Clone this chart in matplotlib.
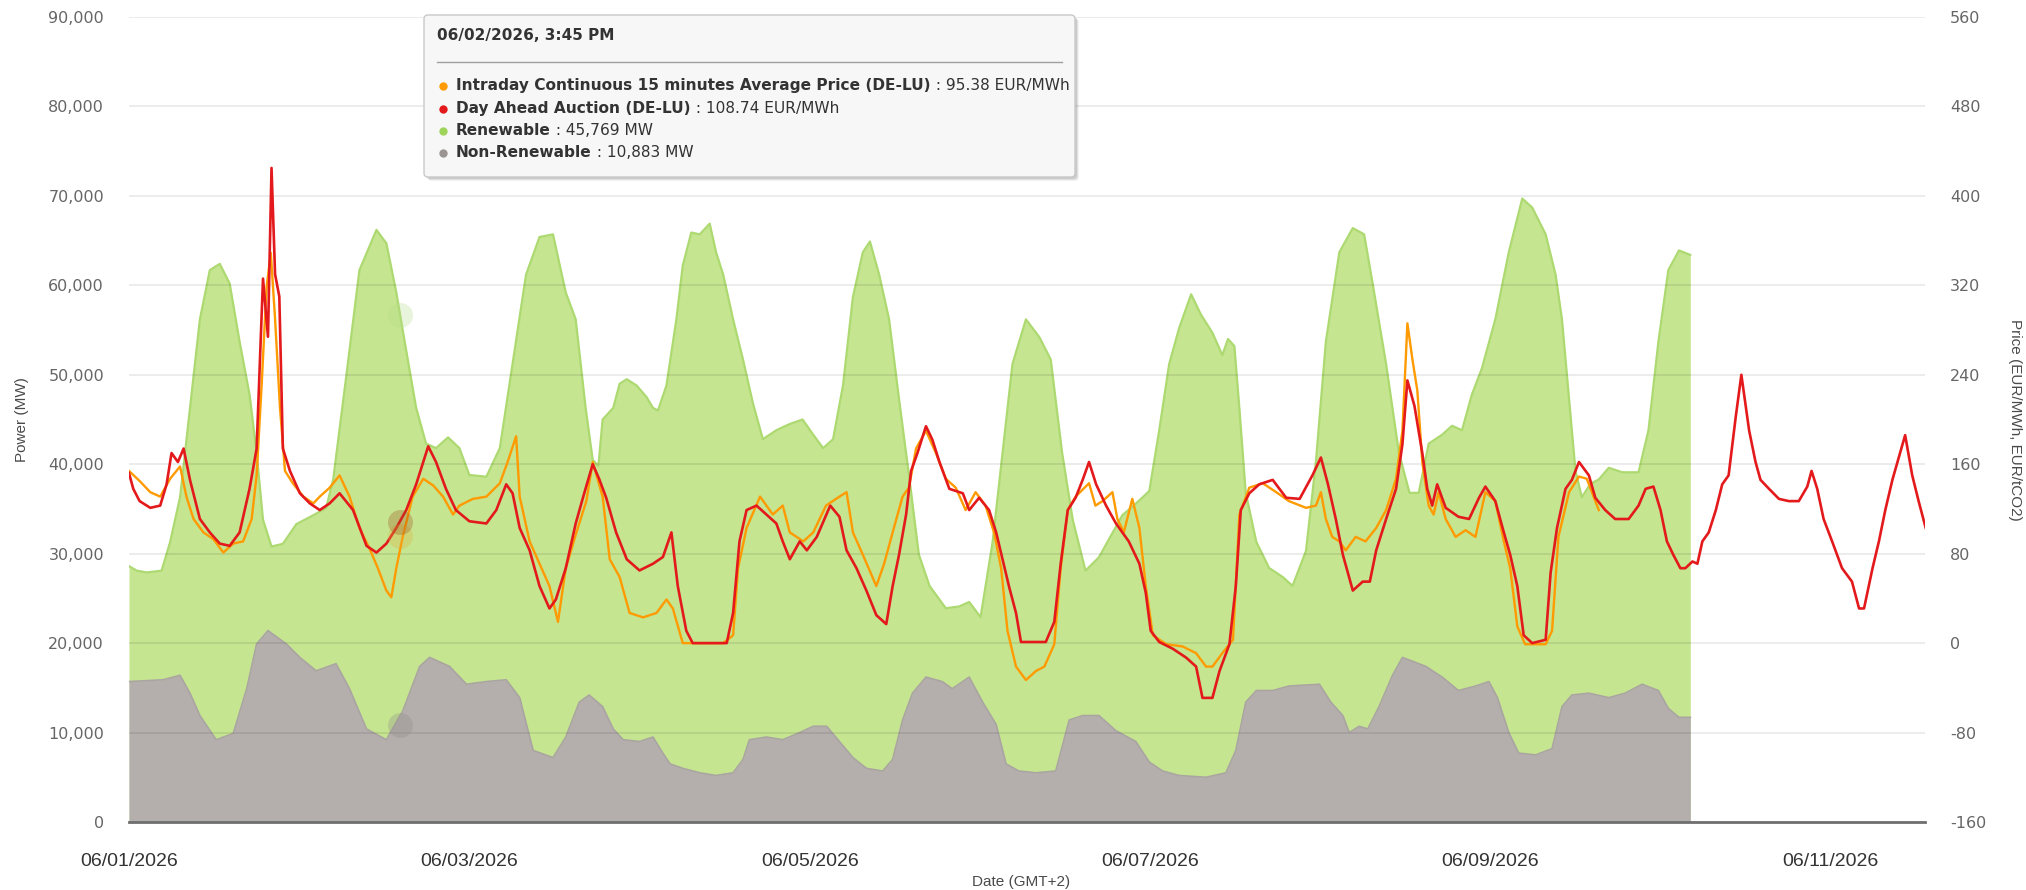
import matplotlib.pyplot as plt
import matplotlib.dates as mdates
import numpy as np
import pandas as pd
from matplotlib.patches import FancyBboxPatch
from matplotlib.ticker import FixedLocator, FuncFormatter

# All times are hours after 06/01/2026 00:00 (GMT+2).

# top of the stacked area (renewable + non-renewable), MW
total_hours = [0, 1.1, 2.5, 4.6, 5.8, 7.2, 8.6, 10.0, 11.4, 12.8, 14.2, 15.6, 17.0, 18.0,
               18.9, 20.1, 21.7, 23.6, 26.0, 27.8, 28.8, 30.7, 32.5, 34.9, 36.3, 37.7, 39.1,
               40.5, 41.9, 43.3, 45.0, 46.6, 48.0, 50.4, 52.3, 54.1, 56.0, 57.9, 59.8, 61.6,
               63.0, 64.4, 65.4, 66.2, 66.8, 68.3, 69.2, 70.2, 71.6, 73.0, 73.9, 74.6, 75.8,
               77.2, 78.1, 79.3, 80.5, 81.9, 82.8, 83.8, 85.2, 86.6, 88.0, 89.4, 91.3, 93.2,
               95.0, 96.5, 97.9, 99.3, 100.7, 102.1, 103.5, 104.5, 105.8, 107.2, 108.6, 110.0,
               111.4, 112.9, 115.2, 117.1, 118.5, 120.1, 121.8, 123.2, 124.6, 126.5, 128.4,
               130.0, 131.6, 133.1, 134.9, 136.8, 138.2, 140.1, 142.0, 143.9, 145.3, 146.7,
               148.1, 149.8, 151.2, 152.8, 154.2, 155.0, 155.9, 156.6, 157.5, 159.0, 160.8,
               162.7, 164.1, 166.0, 167.4, 168.8, 170.7, 172.6, 174.2, 175.4, 177.3, 179.1,
               180.6, 181.9, 183.3, 185.2, 186.6, 188.0, 189.4, 190.8, 192.7, 194.6, 196.5,
               197.9, 199.8, 201.2, 202.1, 203.1, 204.0, 204.9, 206.1, 207.3, 208.7, 210.6,
               212.9, 214.3, 215.7, 217.1, 218.6, 220.2]
total_mw = [28600, 28100, 27900, 28100, 31300, 36300, 46300, 56200, 61700, 62400, 60200, 53700,
            47800, 41300, 33800, 30800, 31100, 33300, 34300, 35100, 38300, 50200, 61700, 66200,
            64700, 59200, 52700, 46300, 42300, 41800, 43000, 41800, 38800, 38600, 41800, 51200,
            61200, 65400, 65700, 59200, 56200, 46300, 40500, 39800, 45000, 46300, 49000, 49500,
            48800, 47500, 46300, 46000, 48800, 56200, 62200, 65900, 65700, 66900, 63700, 61200,
            56200, 51700, 46800, 42800, 43800, 44500, 45000, 43300, 41800, 42800, 48800, 58700,
            63700, 64900, 61200, 56200, 47300, 38800, 29900, 26400, 23900, 24100, 24600, 22900,
            31300, 41300, 51200, 56200, 54200, 51700, 41300, 33800, 28100, 29600, 31600, 34300,
            35600, 37000, 43800, 51200, 55200, 59000, 56700, 54700, 52200, 54000, 53200, 46300,
            36800, 31300, 28400, 27400, 26400, 30300, 40300, 53700, 63700, 66400, 65700, 60200,
            51200, 41300, 36800, 36800, 42300, 43300, 44300, 43800, 47800, 50700, 56200, 63700,
            69700, 68700, 65700, 61200, 56200, 47300, 39300, 36300, 37800, 38300, 39600, 39100,
            39100, 43800, 53700, 61700, 63900, 63400]

nonren_hours = [0, 4.8, 7.2, 8.6, 10.0, 12.3, 14.7, 16.6, 18.0, 19.6, 22.2, 24.1, 26.4, 29.2,
                31.1, 33.5, 36.3, 38.6, 41.0, 42.4, 45.2, 47.6, 50.4, 53.2, 55.1, 57.0, 59.8,
                61.6, 63.5, 64.9, 66.8, 68.3, 69.7, 72.0, 73.9, 75.3, 76.3, 78.1, 80.5, 82.8,
                85.2, 86.6, 87.5, 89.9, 92.2, 94.6, 96.5, 98.4, 100.2, 102.1, 104.0, 106.3,
                107.7, 109.1, 110.5, 112.4, 114.7, 116.1, 118.5, 120.4, 122.3, 123.7, 125.5,
                127.9, 130.7, 132.6, 134.5, 136.8, 139.2, 142.0, 143.9, 145.8, 148.1, 151.9,
                154.7, 156.1, 157.5, 159.0, 161.3, 163.6, 167.9, 169.5, 171.2, 172.1, 173.5,
                174.7, 176.3, 178.2, 179.6, 182.9, 185.2, 187.5, 189.9, 191.8, 193.0, 194.6,
                196.0, 198.4, 200.7, 202.1, 203.5, 205.9, 208.7, 211.0, 213.4, 215.7, 217.1,
                218.6, 220.2]
nonren_mw = [15700, 15900, 16400, 14400, 11900, 9200, 9900, 14900, 19900, 21400, 19900, 18400,
             16900, 17700, 14900, 10400, 9200, 12400, 17400, 18400, 17400, 15400, 15700, 15900,
             13900, 8000, 7200, 9500, 13400, 14200, 12900, 10400, 9200, 9000, 9500, 7700, 6500,
             6000, 5500, 5200, 5500, 7000, 9200, 9500, 9200, 10000, 10700, 10700, 9000, 7200,
             6000, 5700, 7000, 11400, 14400, 16200, 15700, 14900, 16200, 13400, 10900, 6500,
             5700, 5500, 5700, 11400, 11900, 11900, 10200, 9000, 6700, 5700, 5200, 5000, 5500,
             8000, 13400, 14700, 14700, 15200, 15400, 13400, 11900, 10000, 10700, 10400, 12900,
             16400, 18400, 17400, 16200, 14700, 15200, 15700, 13900, 10000, 7700, 7500, 8200,
             12900, 14200, 14400, 13900, 14400, 15400, 14700, 12700, 11700, 11700]

# Day Ahead Auction (DE-LU), EUR/MWh
da_hours = [0, 0.6, 1.5, 3.0, 4.4, 5.3, 6.0, 6.9, 7.7, 8.6, 10.0, 11.4, 12.8, 14.2, 15.6, 17.0,
            18.0, 18.9, 19.6, 20.1, 20.6, 21.2, 21.7, 22.7, 24.1, 25.5, 26.9, 28.3, 29.7, 31.6,
            33.5, 34.9, 36.3, 37.7, 39.1, 40.5, 42.2, 43.3, 44.7, 46.1, 48.0, 50.4, 51.8, 53.2,
            54.1, 55.1, 56.5, 57.9, 59.3, 60.2, 61.6, 63.0, 64.2, 65.4, 66.3, 67.3, 68.7, 70.2,
            72.0, 73.9, 75.3, 76.5, 77.4, 78.6, 79.5, 84.3, 85.2, 86.1, 87.1, 88.5, 89.9, 91.3,
            92.2, 93.2, 94.6, 95.6, 97.0, 98.9, 100.2, 101.2, 102.6, 104.0, 105.4, 106.8, 107.7,
            108.6, 109.6, 110.3, 111.2, 112.4, 113.3, 114.3, 115.7, 117.6, 118.5, 119.9, 121.3,
            122.3, 123.2, 124.1, 125.1, 125.8, 129.3, 130.5, 131.4, 132.4, 133.5, 134.5, 135.4,
            136.4, 137.8, 139.2, 141.0, 142.5, 143.4, 144.1, 145.3, 147.2, 149.1, 150.5, 151.4,
            152.8, 153.8, 155.2, 156.1, 156.8, 158.0, 159.4, 161.3, 163.2, 165.1, 166.9, 168.1,
            169.1, 170.2, 171.2, 172.6, 174.0, 175.0, 175.9, 177.3, 178.7, 179.6, 180.3, 181.3,
            182.4, 183.1, 183.8, 184.5, 185.7, 187.5, 189.0, 190.4, 191.3, 192.7, 193.9, 194.8,
            195.8, 196.7, 197.9, 199.8, 200.5, 201.4, 202.6, 203.5, 204.5, 205.9, 206.8, 208.2,
            209.6, 211.5, 212.9, 213.9, 215.0, 216.0, 216.9, 217.8, 218.8, 219.5, 220.5, 221.2,
            221.9, 222.8, 223.8, 224.7, 225.6, 226.6, 227.4, 228.5, 229.4, 230.1, 231.3, 232.7,
            234.1, 235.5, 236.7, 237.3, 238.1, 239.0, 240.2, 241.6, 243.0, 244.0, 244.7, 245.9,
            246.8, 247.7, 248.7, 249.6, 250.5, 251.5, 252.4, 253.4]
da_price = [152, 138, 127, 121, 123, 142, 170, 162, 174, 146, 111, 99, 89, 87, 99, 138, 174, 326,
            274, 425, 330, 310, 174, 154, 134, 125, 119, 125, 134, 119, 87, 81, 89, 103, 119, 142,
            176, 162, 138, 119, 109, 107, 119, 142, 134, 103, 83, 51, 31, 39, 67, 107, 134, 160,
            147, 130, 99, 75, 65, 71, 77, 99, 51, 11, 0, 0, 27, 91, 119, 123, 115, 107, 91, 75,
            91, 83, 95, 123, 113, 83, 67, 47, 25, 17, 51, 79, 115, 154, 170, 194, 182, 162, 138,
            134, 119, 130, 119, 99, 75, 51, 27, 1, 1, 19, 71, 119, 130, 146, 162, 142, 123, 107,
            91, 71, 45, 11, 1, -5, -13, -21, -49, -49, -25, -1, 51, 119, 134, 142, 146, 130, 129,
            150, 166, 142, 111, 79, 47, 55, 55, 83, 111, 138, 178, 235, 212, 170, 138, 123, 142,
            121, 113, 111, 130, 140, 127, 99, 79, 51, 7, 0, 3, 63, 103, 138, 146, 162, 150, 130,
            119, 111, 111, 123, 138, 140, 119, 91, 79, 67, 67, 73, 71, 91, 99, 119, 142, 150, 202,
            240, 190, 162, 146, 138, 129, 127, 127, 140, 154, 138, 111, 91, 67, 55, 31, 31, 67,
            91, 119, 146, 166, 186, 150, 127, 103]

# Intraday Continuous 15 minutes Average Price (DE-LU), EUR/MWh
id_hours = [0, 1.5, 3.0, 4.4, 5.8, 7.2, 8.1, 9.1, 10.5, 11.9, 13.3, 14.7, 16.1, 17.3, 18.0, 18.7,
            19.4, 20.0, 20.6, 21.3, 22.0, 23.1, 24.6, 26.0, 26.9, 28.3, 29.7, 31.1, 32.5, 33.9,
            35.1, 36.3, 37.0, 37.7, 38.6, 40.0, 41.5, 42.9, 44.3, 45.7, 46.6, 48.5, 50.4, 52.3,
            53.4, 54.6, 55.1, 56.5, 57.9, 59.3, 60.5, 61.6, 63.1, 64.5, 65.4, 66.8, 67.8, 69.2,
            70.6, 72.5, 74.4, 75.8, 76.7, 78.1, 80.5, 83.8, 85.2, 85.9, 87.1, 89.0, 90.8, 92.2,
            93.2, 95.1, 96.5, 98.3, 100.2, 101.2, 102.1, 103.5, 105.4, 106.5, 107.7, 109.1,
            110.0, 111.0, 112.4, 113.8, 115.2, 116.6, 118.0, 119.4, 120.8, 122.0, 123.0, 123.9,
            125.1, 126.5, 127.9, 129.1, 130.5, 131.4, 132.4, 133.5, 135.4, 136.3, 137.3, 138.7,
            139.4, 140.3, 141.5, 142.5, 143.4, 144.4, 146.3, 148.6, 150.5, 151.9, 152.8, 154.2,
            155.7, 156.6, 158.0, 159.9, 161.8, 163.6, 166.0, 167.4, 168.1, 168.8, 169.7, 170.7,
            171.6, 173.0, 174.4, 175.9, 177.3, 178.7, 179.6, 180.3, 181.0, 181.7, 182.4, 183.3,
            184.0, 184.7, 185.7, 187.1, 188.5, 189.9, 191.3, 192.7, 193.9, 194.8, 195.8, 196.9,
            199.8, 200.7, 201.6, 203.1, 204.5, 205.6, 206.8, 207.3]
id_price = [154, 145, 135, 131, 147, 158, 131, 111, 99, 93, 81, 89, 91, 111, 150, 230, 318, 349,
            290, 210, 154, 143, 131, 125, 131, 139, 150, 131, 103, 85, 67, 47, 41, 67, 95, 131,
            147, 141, 131, 115, 123, 129, 131, 143, 162, 185, 131, 91, 71, 51, 19, 67, 99, 127,
            162, 131, 75, 59, 27, 23, 27, 39, 31, 0, 0, 0, 7, 67, 103, 131, 115, 123, 99, 91, 99,
            123, 131, 135, 99, 79, 51, 71, 99, 131, 139, 174, 190, 170, 147, 139, 119, 135, 123,
            99, 67, 11, -21, -33, -25, -21, -1, 67, 119, 131, 143, 123, 127, 135, 111, 99, 129,
            103, 51, 7, -1, -3, -9, -21, -21, -9, 3, 115, 139, 143, 135, 127, 121, 123, 135, 111,
            95, 91, 83, 95, 91, 103, 119, 147, 190, 286, 254, 226, 162, 123, 115, 135, 111, 95,
            101, 95, 135, 127, 91, 67, 15, -1, -1, 11, 95, 135, 149, 147, 127, 119]

power_ticks = list(range(0, 90001, 10000))
price_ticks = list(range(-160, 561, 80))
date_tick_days = [1, 3, 5, 7, 9, 11]

# hovered point shown by the tooltip
hover_hour = 38.2
tooltip_header = '06/02/2026, 3:45 PM'
tt_intraday = 95.38
tt_dayahead = 108.74
tt_renewable = 45769
tt_nonren = 10883

C_ORANGE = '#ff9a00'
C_RED = '#e3191c'
C_GREEN = '#c5e590'
C_GREEN_LINE = '#add971'
C_GREY = '#b4afad'
C_GREY_LINE = '#aaa4a2'

start = pd.Timestamp('2026-06-01 00:00')


def to_time(hours):
    return start + pd.to_timedelta(np.asarray(hours, dtype=float), unit='h')


W, H = 2026, 890
fig = plt.figure(figsize=(W / 100, H / 100), dpi=100)
fig.patch.set_facecolor('white')
ax = fig.add_axes([129 / W, 1 - 822 / H, (1925 - 129) / W, (822 - 17) / H])
ax2 = ax.twinx()

# areas: green stack top first, grey non-renewable over it
ax.fill_between(to_time(total_hours), 0, total_mw, color=C_GREEN, lw=0, zorder=1)
ax.plot(to_time(total_hours), total_mw, color=C_GREEN_LINE, lw=1.6, zorder=1.2)
ax.fill_between(to_time(nonren_hours), 0, nonren_mw, color=C_GREY, lw=0, zorder=1.3)
ax.plot(to_time(nonren_hours), nonren_mw, color=C_GREY_LINE, lw=1.2, zorder=1.4)

# hover halos
t_hover = to_time([hover_hour])
ax.plot(t_hover, [tt_renewable + tt_nonren], 'o', ms=18, color='#b6dd88', alpha=0.3, mec='none', zorder=3)
ax.plot(t_hover, [tt_nonren], 'o', ms=18, color='#8f8a88', alpha=0.3, mec='none', zorder=3)

ax2.plot(to_time(id_hours), id_price, color=C_ORANGE, lw=1.7, zorder=2)
ax2.plot(to_time(da_hours), da_price, color=C_RED, lw=1.9, zorder=3)
ax2.plot(t_hover, [tt_intraday], 'o', ms=18, color='#e0b040', alpha=0.3, mec='none', zorder=4)
ax2.plot(t_hover, [tt_dayahead], 'o', ms=18, color='#a0501a', alpha=0.3, mec='none', zorder=4)

ax.set_xlim(to_time([0])[0], to_time([253.3])[0])
ax.set_ylim(0, 90000)
ax2.set_ylim(-160, 560)

ax.yaxis.set_major_locator(FixedLocator(power_ticks))
ax.yaxis.set_major_formatter(FuncFormatter(lambda v, p: f'{int(v):,}'))
ax2.yaxis.set_major_locator(FixedLocator(price_ticks))
ax2.yaxis.set_major_formatter(FuncFormatter(lambda v, p: f'{int(v)}'))

ax.xaxis.set_major_locator(mdates.DayLocator(bymonthday=date_tick_days))
ax.xaxis.set_major_formatter(mdates.DateFormatter('%m/%d/%Y'))

ax.set_axisbelow(False)
ax.grid(axis='y', color='black', alpha=0.09, lw=1.2)
ax.grid(axis='x', visible=False)

for a in (ax, ax2):
    for s in a.spines.values():
        s.set_visible(False)
ax.spines['bottom'].set_visible(True)
ax.spines['bottom'].set_color('#6f6f6f')
ax.spines['bottom'].set_linewidth(2)
ax.spines['bottom'].set_zorder(5)

ax.tick_params(axis='y', length=0, pad=18, labelsize=11.5, labelcolor='#666666')
ax2.tick_params(axis='y', length=0, pad=18, labelsize=11.5, labelcolor='#666666')
ax.tick_params(axis='x', length=0, pad=22, labelsize=14, labelcolor='#333333')
for lab in ax.get_xticklabels():
    lab.set_fontfamily('Liberation Sans')

ax.set_ylabel('Power (MW)', fontsize=11, color='#4a4a4a', family='Liberation Sans')
ax.yaxis.set_label_coords(-0.0596, 0.5)
ax.yaxis.label.set_va('center')
ax2.set_ylabel('Price (EUR/MWh, EUR/tCO2)', fontsize=11, color='#4a4a4a',
               family='Liberation Sans', rotation=-90)
ax2.yaxis.set_label_coords(1.050, 0.5)
ax2.yaxis.label.set_va('center')
ax.set_xlabel('Date (GMT+2)', fontsize=11, color='#4a4a4a', family='Liberation Sans')
ax.xaxis.set_label_coords(0.4967, -0.0745)
ax.xaxis.label.set_va('center')

# tooltip overlay in pixel coordinates
ov = fig.add_axes([0, 0, 1, 1], zorder=20)
ov.set_xlim(0, W)
ov.set_ylim(H, 0)
ov.axis('off')
bx0, by0, bx1, by1 = 424, 15, 1075, 177
for off, al in ((4, 0.05), (3, 0.07), (2, 0.09)):
    ov.add_patch(FancyBboxPatch((bx0 + off, by0 + off), bx1 - bx0, by1 - by0,
                                boxstyle='round,pad=0,rounding_size=4',
                                fc='black', ec='none', alpha=al))
ov.add_patch(FancyBboxPatch((bx0, by0), bx1 - bx0, by1 - by0,
                            boxstyle='round,pad=0,rounding_size=4',
                            fc='#f7f7f7', ec='#c9c9c9', lw=1))
ov.text(437, 35, tooltip_header, fontsize=11, fontweight='bold', color='#333333', va='center')
ov.plot([437, 1062], [62, 62], color='#a0a0a0', lw=1)

rows = [
    ('Intraday Continuous 15 minutes Average Price (DE-LU)', f'{tt_intraday:.2f} EUR/MWh', C_ORANGE, 85.5),
    ('Day Ahead Auction (DE-LU)', f'{tt_dayahead:.2f} EUR/MWh', C_RED, 108.5),
    ('Renewable', f'{tt_renewable:,} MW', '#9fd45a', 130.5),
    ('Non-Renewable', f'{tt_nonren:,} MW', '#9a9492', 152.5),
]
fig.canvas.draw()
renderer = fig.canvas.get_renderer()
for name, val, col, y in rows:
    ov.plot(443, y, 'o', ms=6, color=col, mec='none')
    t = ov.text(456, y, name, fontsize=11.1, fontweight='bold', color='#333333', va='center')
    bb = t.get_window_extent(renderer)
    ov.text(bb.x1, y, ' : ' + val, fontsize=11.1, color='#333333', va='center')

fig.savefig('out.png', dpi=100, facecolor='white')
